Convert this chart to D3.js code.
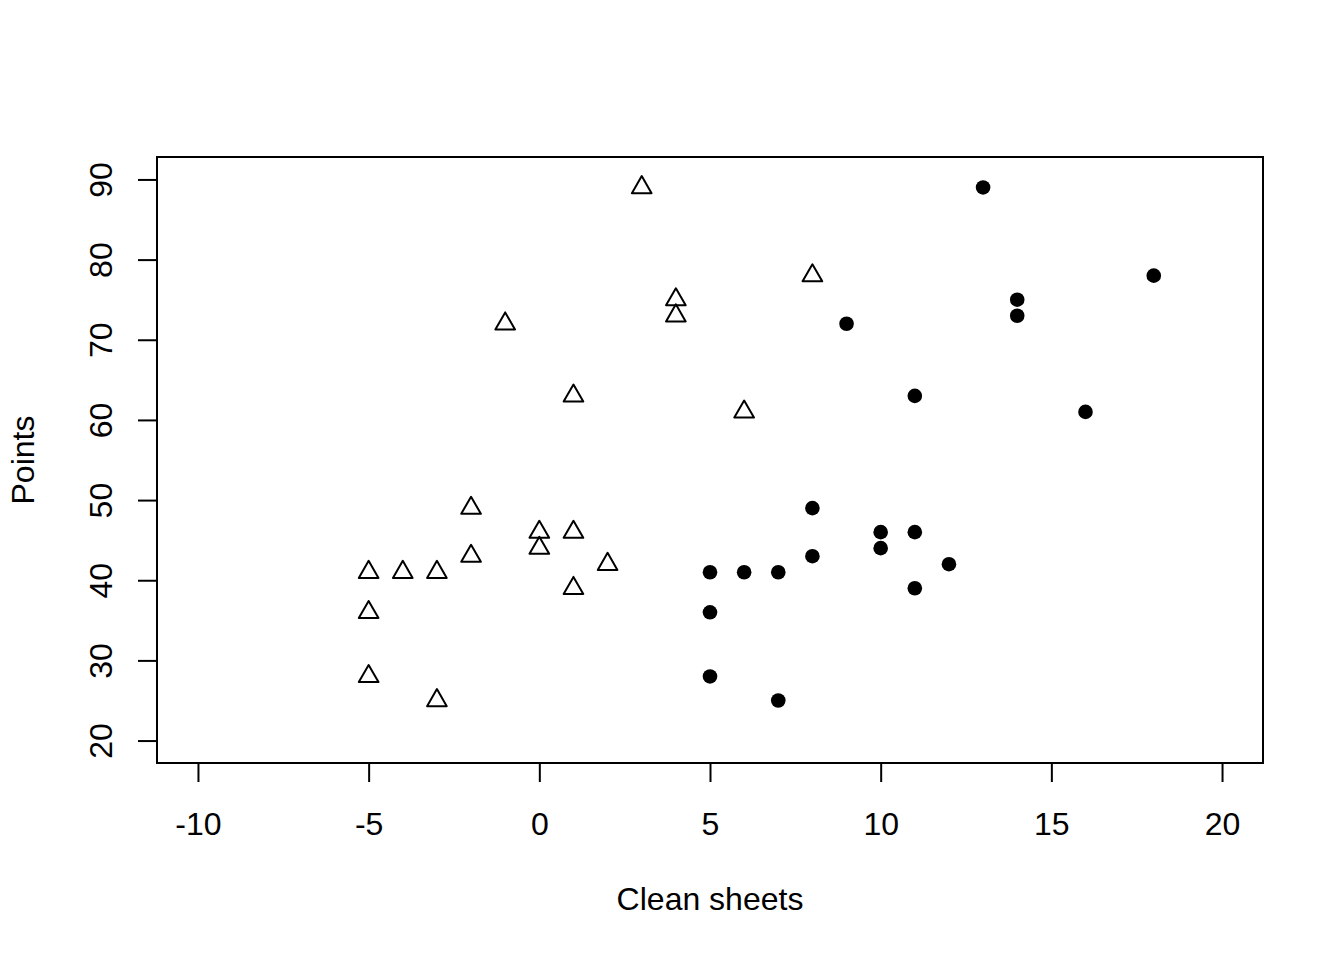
<!DOCTYPE html>
<html>
<head>
<meta charset="utf-8">
<script src="https://cdn.jsdelivr.net/npm/d3@7"></script>
<style>
  body { margin: 0; background: #fff; }
  svg { display: block; }
  text { font-family: "Liberation Sans", Arial, Helvetica, sans-serif; fill: #000; }
</style>
</head>
<body>
<div id="svgContainer"></div>
<script>
// values
const cleanSheets = [13, 18, 14, 14, 9, 11, 16, 8, 10, 11, 10, 8, 12, 5, 6, 7, 11, 5, 5, 7];
const points = [89, 78, 75, 73, 72, 63, 61, 49, 46, 46, 44, 43, 42, 41, 41, 41, 39, 36, 28, 25];
const shiftedSheets = [3, 8, 4, 4, -1, 1, 6, -2, 0, 1, 0, -2, 2, -5, -4, -3, 1, -5, -5, -3];
const xTicks = [-10, -5, 0, 5, 10, 15, 20];
const yTicks = [20, 30, 40, 50, 60, 70, 80, 90];
const xLabel = "Clean sheets";
const yLabel = "Points";

const width = 1344;
const height = 960;
const margin = { top: 157, right: 81, bottom: 197, left: 157 };
const fontSize = 32;
const tickLen = 19;

const svg = d3
  .select("#svgContainer")
  .append("svg")
  .attr("width", width)
  .attr("height", height);

// R style: limits -10..20 and 20..90 with 4% padding
const x = d3
  .scaleLinear()
  .domain([-11.2, 21.2])
  .range([margin.left, width - margin.right]);
const y = d3
  .scaleLinear()
  .domain([17.2, 92.8])
  .range([height - margin.bottom, margin.top]);

const circles = cleanSheets.map((d, i) => ({ x: d, y: points[i] }));
const triangles = shiftedSheets.map((d, i) => ({ x: d, y: points[i] }));

// x axis
const xAxis = svg
  .append("g")
  .attr("transform", `translate(0,${height - margin.bottom})`)
  .call(
    d3.axisBottom(x).tickValues(xTicks).tickSize(tickLen).tickSizeOuter(0).tickPadding(30)
      .tickFormat(d3.format("d"))
  );
xAxis.select(".domain").remove();
xAxis.selectAll(".tick line").attr("stroke", "#000").attr("stroke-width", 2);
xAxis.selectAll(".tick text")
  .attr("font-size", fontSize)
  .attr("font-family", "Liberation Sans, Arial, sans-serif")
  .text((d) => (d < 0 ? "-" + Math.abs(d) : d));
xAxis.append("line")
  .attr("x1", x(xTicks[0])).attr("x2", x(xTicks[xTicks.length - 1]))
  .attr("stroke", "#000").attr("stroke-width", 2);

// y axis
const yAxis = svg
  .append("g")
  .attr("transform", `translate(${margin.left},0)`)
  .call(d3.axisLeft(y).tickValues(yTicks).tickSize(tickLen).tickSizeOuter(0));
yAxis.select(".domain").remove();
yAxis.selectAll(".tick line").attr("stroke", "#000").attr("stroke-width", 2);
yAxis.selectAll(".tick text")
  .attr("x", null)
  .attr("dy", null)
  .attr("text-anchor", "middle")
  .attr("font-size", fontSize)
  .attr("font-family", "Liberation Sans, Arial, sans-serif")
  .attr("transform", `translate(${112 - margin.left},0) rotate(-90)`);
yAxis.append("line")
  .attr("y1", y(yTicks[0])).attr("y2", y(yTicks[yTicks.length - 1]))
  .attr("stroke", "#000").attr("stroke-width", 2);

// box
svg.append("rect")
  .attr("x", margin.left)
  .attr("y", margin.top)
  .attr("width", width - margin.left - margin.right)
  .attr("height", height - margin.top - margin.bottom)
  .attr("fill", "none")
  .attr("stroke", "#000")
  .attr("stroke-width", 2);

// axis titles
svg.append("text")
  .attr("x", (x.range()[0] + x.range()[1]) / 2)
  .attr("y", 910)
  .attr("text-anchor", "middle")
  .attr("font-size", fontSize)
  .text(xLabel);

svg.append("text")
  .attr("transform", `translate(34,${(y.range()[0] + y.range()[1]) / 2}) rotate(-90)`)
  .attr("text-anchor", "middle")
  .attr("font-size", fontSize)
  .text(yLabel);

// R pch 2 triangle geometry
const rad = 7.3;
const trc0 = Math.sqrt((4 * Math.PI) / (3 * Math.sqrt(3)));
const trc1 = (trc0 * Math.sqrt(3)) / 2;
const trc2 = trc0 / 2;
const triPath = `M0,${-trc0 * rad}L${trc1 * rad},${trc2 * rad}L${-trc1 * rad},${trc2 * rad}Z`;

svg.append("g")
  .selectAll("path")
  .data(triangles)
  .enter()
  .append("path")
  .attr("d", triPath)
  .attr("transform", (d) => `translate(${x(d.x)},${y(d.y)})`)
  .attr("fill", "none")
  .attr("stroke", "#000")
  .attr("stroke-width", 2)
  .attr("stroke-linejoin", "round");

svg.append("g")
  .selectAll("circle")
  .data(circles)
  .enter()
  .append("circle")
  .attr("cx", (d) => x(d.x))
  .attr("cy", (d) => y(d.y))
  .attr("r", rad)
  .attr("fill", "#000");
</script>
</body>
</html>
